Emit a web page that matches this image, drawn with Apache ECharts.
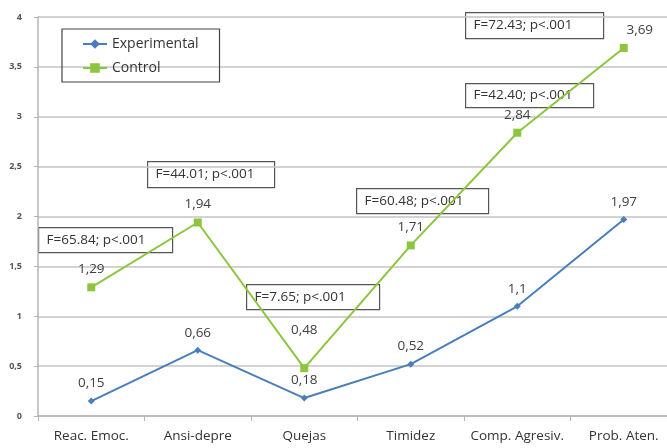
<!DOCTYPE html>
<html><head><meta charset="utf-8">
<script src="https://cdn.jsdelivr.net/npm/echarts@6/dist/echarts.min.js"></script>
<style>html,body{margin:0;padding:0;background:#fff}#c{width:667px;height:448px}</style>
</head><body><div id="c"></div>
<script>
const categories = ['Reac. Emoc.', 'Ansi-depre', 'Quejas', 'Timidez', 'Comp. Agresiv.', 'Prob. Aten.'];
const experimental = [0.15, 0.66, 0.18, 0.52, 1.1, 1.97];
const control = [1.29, 1.94, 0.48, 1.71, 2.84, 3.69];
const seriesNames = ['Experimental', 'Control'];
const annotations = ['F=65.84; p<.001', 'F=44.01; p<.001', 'F=7.65; p<.001', 'F=60.48; p<.001', 'F=42.40; p<.001', 'F=72.43; p<.001'];
// annotation box placement (pixels): [x, y, w, h]
const boxes = [[38,227,134,25],[147,161,127,26],[246,284,133,25],[356,188,132,25],[465,83,128,24],[465,12,138,26]];

const FONT = "'Open Sans', 'Liberation Sans', sans-serif";
const fmt = v => String(v).replace('.', ',');
const chart = echarts.init(document.getElementById('c'));

const graphic = annotations.map((t, i) => ({
  type: 'group', left: boxes[i][0], top: boxes[i][1], z: 100,
  children: [
    {type: 'rect', shape: {x: 0, y: 0, width: boxes[i][2], height: boxes[i][3]},
     style: {fill: '#fff', stroke: '#555', lineWidth: 1.2}},
    {type: 'text', x: 8, y: boxes[i][3] / 2,
     style: {text: t, font: '13.5px ' + FONT, fill: '#333', verticalAlign: 'middle'}}
  ]
}));

chart.setOption({
  animation: false,
  textStyle: {fontFamily: FONT},
  grid: {left: 38, top: 17, height: 399, width: 639, outerBoundsMode: 'none', containLabel: false},
  legend: {
    left: 62, top: 29, orient: 'vertical',
    padding: [8, 21, 7, 20], itemGap: 10, itemWidth: 24, itemHeight: 12,
    borderColor: '#444', borderWidth: 1.2,
    textStyle: {fontSize: 14, color: '#333', fontFamily: FONT},
    data: seriesNames
  },
  xAxis: {
    type: 'category', data: categories, boundaryGap: true,
    axisLine: {lineStyle: {color: '#b5b5b5', width: 1.5}},
    axisTick: {show: true, length: 5, lineStyle: {color: '#b5b5b5'}},
    axisLabel: {fontSize: 13.5, color: '#333', margin: 13, interval: 0}
  },
  yAxis: {
    type: 'value', min: 0, max: 4, interval: 0.5,
    axisLine: {show: true, lineStyle: {color: '#b5b5b5', width: 1.5}},
    axisTick: {show: true, length: 4, lineStyle: {color: '#b5b5b5'}},
    splitLine: {lineStyle: {color: '#c4c4c4', width: 1.5}},
    axisLabel: {fontSize: 9, color: '#555', fontWeight: 'bold', margin: 16, formatter: v => fmt(v)}
  },
  graphic: graphic,
  series: [
    {
      name: seriesNames[0], type: 'line', data: experimental,
      symbol: 'diamond', symbolSize: 7,
      lineStyle: {color: '#4a7ebb', width: 2}, itemStyle: {color: '#4a7ebb'},
      label: {show: true, position: 'top', distance: 7, fontSize: 13.5, color: '#404040', formatter: p => fmt(p.value)}
    },
    {
      name: seriesNames[1], type: 'line',
      data: control.map((v, i) => {
        if (i === 2) return {value: v, label: {offset: [0, -20]}};
        if (i === 5) return {value: v, label: {offset: [16, 0]}};
        return v;
      }),
      symbol: 'rect', symbolSize: 8,
      lineStyle: {color: '#8cc63f', width: 2}, itemStyle: {color: '#8cc63f'},
      label: {show: true, position: 'top', distance: 7, fontSize: 13.5, color: '#404040', formatter: p => fmt(p.value)}
    }
  ]
});
</script>
</body></html>
